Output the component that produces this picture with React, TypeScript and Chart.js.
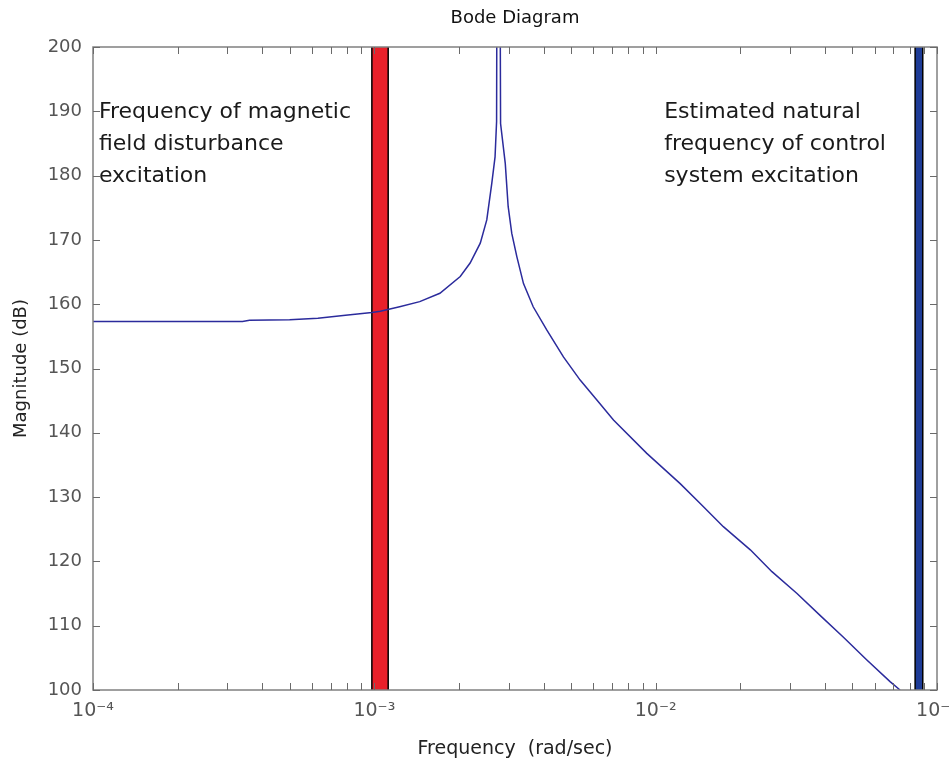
import React, { useEffect, useRef } from "react";
import { Chart, registerables } from "chart.js";

Chart.register(...registerables);

// ---- data ----
const freqRadPerSec = [
  1.0e-4, 2.0e-4, 3.4e-4, 3.6e-4, 5.0e-4, 6.3e-4, 7.9e-4, 9.8e-4, 1.05e-3, 1.23e-3,
  1.45e-3, 1.71e-3, 2.02e-3, 2.19e-3, 2.38e-3, 2.51e-3, 2.615e-3, 2.686e-3, 2.72e-3, 2.755e-3,
  2.81e-3, 2.92e-3, 2.99e-3, 3.08e-3, 3.21e-3, 3.39e-3, 3.67e-3, 4.1e-3, 4.7e-3, 5.39e-3,
  6.18e-3, 7.08e-3, 9.3e-3, 1.222e-2, 1.44e-2, 1.74e-2, 2.17e-2, 2.59e-2, 3.18e-2, 3.84e-2,
  4.65e-2, 5.62e-2, 6.81e-2, 7.39e-2,
];
const magnitudeDb = [
  157.3, 157.3, 157.3, 157.5, 157.6, 157.8, 158.3, 158.7, 158.9, 159.6,
  160.4, 161.7, 164.3, 166.4, 169.5, 173.1, 178.8, 182.9, 188.4, 300,
  188.1, 181.9, 175.2, 171.0, 167.4, 163.2, 159.6, 156.0, 151.8, 148.2,
  145.1, 142.0, 136.8, 132.1, 129.0, 125.4, 121.8, 118.4, 115.0, 111.6,
  108.2, 104.7, 101.3, 100.0,
];

const xMin = 1e-4;
const xMax = 1e-1;
const yMin = 100;
const yMax = 200;
const yStep = 10;
const xTickValues = [1e-4, 1e-3, 1e-2, 1e-1];
const xTickLabels = ["10\u207B\u2074", "10\u207B\u00B3", "10\u207B\u00B2", "10\u207B\u00B9"];

// excitation bands (frequency ranges)
const bandStart = [0.98e-3, 0.0836];
const bandEnd = [1.12e-3, 0.089];
const bandColor = ["#e8202a", "#1e3c96"];

// annotations
const leftNoteLines = ["Frequency of magnetic", "field disturbance", "excitation"];
const rightNoteLines = ["Estimated natural", "frequency of control", "system excitation"];
const noteFreq = [1.05e-4, 0.01072];
const noteLineDb = [189, 184, 179];

const TEXT_FONT = "'DejaVu Sans', 'Liberation Sans', Arial, sans-serif";

const bodePlugin = {
  id: "bodeDecor",
  beforeDatasetsDraw(chart: any) {
    const { ctx, chartArea, scales } = chart;
    const xs = scales.x;
    ctx.save();
    for (let i = 0; i < bandStart.length; i++) {
      const x0 = xs.getPixelForValue(bandStart[i]);
      const x1 = xs.getPixelForValue(bandEnd[i]);
      ctx.fillStyle = bandColor[i];
      ctx.fillRect(x0, chartArea.top, x1 - x0, chartArea.bottom - chartArea.top);
      ctx.strokeStyle = "#000";
      ctx.lineWidth = 1.5;
      ctx.beginPath();
      ctx.moveTo(x0, chartArea.top);
      ctx.lineTo(x0, chartArea.bottom);
      ctx.moveTo(x1, chartArea.top);
      ctx.lineTo(x1, chartArea.bottom);
      ctx.stroke();
    }
    ctx.restore();
  },
  afterDatasetsDraw(chart: any) {
    const { ctx, chartArea, scales } = chart;
    const xs = scales.x;
    const ys = scales.y;
    const { left, right, top, bottom } = chartArea;
    ctx.save();
    ctx.strokeStyle = "#808080";
    ctx.lineWidth = 1.5;
    ctx.strokeRect(left, top, right - left, bottom - top);
    ctx.lineWidth = 1;
    ctx.strokeStyle = "#6a6a6a";
    ctx.beginPath();
    // y ticks, inside, both sides
    ys.ticks.forEach((t: any) => {
      const py = Math.round(ys.getPixelForValue(t.value)) + 0.5;
      ctx.moveTo(left, py);
      ctx.lineTo(left + 7, py);
      ctx.moveTo(right, py);
      ctx.lineTo(right - 7, py);
    });
    // x log ticks (major + minor), inside, top and bottom
    for (let e = -4; e <= -1; e++) {
      for (let m = 1; m < 10; m++) {
        const v = m * Math.pow(10, e);
        if (v < xMin * 0.999 || v > xMax * 1.001) continue;
        const px = Math.round(xs.getPixelForValue(v)) + 0.5;
        ctx.moveTo(px, bottom);
        ctx.lineTo(px, bottom - 7);
        ctx.moveTo(px, top);
        ctx.lineTo(px, top + 7);
      }
    }
    ctx.stroke();

    // annotations
    ctx.fillStyle = "#1a1a1a";
    ctx.font = `22px ${TEXT_FONT}`;
    ctx.textAlign = "left";
    ctx.textBaseline = "alphabetic";
    const notes = [leftNoteLines, rightNoteLines];
    notes.forEach((lines, k) => {
      const px = xs.getPixelForValue(noteFreq[k]);
      lines.forEach((line, j) => {
        ctx.fillText(line, px, ys.getPixelForValue(noteLineDb[j]));
      });
    });
    ctx.restore();
  },
};

export default function App() {
  const ref = useRef<HTMLCanvasElement>(null);
  useEffect(() => {
    if (!ref.current) return;
    const data = freqRadPerSec.map((f, i) => ({ x: f, y: magnitudeDb[i] }));
    const chart = new Chart(ref.current, {
      type: "line",
      data: {
        datasets: [
          {
            data,
            borderColor: "#2b2b9c",
            borderWidth: 1.5,
            pointRadius: 0,
            tension: 0,
            fill: false,
          },
        ],
      },
      options: {
        responsive: false,
        animation: false,
        devicePixelRatio: 1,
        layout: { padding: { left: 0, right: 38, top: 0, bottom: 0 } },
        plugins: {
          legend: { display: false },
          tooltip: { enabled: false },
          title: {
            display: true,
            text: "Bode Diagram",
            fullSize: false,
            color: "#111",
            font: { family: TEXT_FONT, size: 18, weight: "normal" },
            padding: { top: 8, bottom: 17.4 },
          },
        },
        scales: {
          x: {
            type: "logarithmic",
            min: xMin,
            max: xMax,
            grid: { display: false, drawTicks: false },
            border: { display: false },
            afterBuildTicks: (scale: any) => {
              scale.ticks = xTickValues.map((v) => ({ value: v }));
            },
            afterFit: (scale: any) => {
              scale.height = 80;
            },
            ticks: {
              autoSkip: false,
              maxRotation: 0,
              padding: 10,
              color: "#555",
              font: { family: TEXT_FONT, size: 19 },
              callback: (_v: any, i: number) => xTickLabels[i],
            },
            title: {
              display: true,
              text: "Frequency  (rad/sec)",
              color: "#222",
              font: { family: TEXT_FONT, size: 19 },
              padding: { top: 0, bottom: 10 },
            },
          },
          y: {
            type: "linear",
            min: yMin,
            max: yMax,
            grid: { display: false, drawTicks: false },
            border: { display: false },
            afterFit: (scale: any) => {
              scale.width = 93;
            },
            ticks: {
              stepSize: yStep,
              padding: 11,
              color: "#555",
              font: { family: TEXT_FONT, size: 18 },
            },
            title: {
              display: true,
              text: "Magnitude (dB)",
              color: "#222",
              font: { family: TEXT_FONT, size: 18 },
              padding: { top: 11, bottom: 0 },
            },
          },
        },
      },
      plugins: [bodePlugin],
    } as any);
    return () => chart.destroy();
  }, []);

  return (
    <div
      style={{
        position: "fixed",
        left: 0,
        top: 0,
        width: 950,
        height: 770,
        overflow: "hidden",
        background: "#fff",
      }}
    >
      <canvas ref={ref} width={975} height={770} style={{ display: "block" }} />
    </div>
  );
}
